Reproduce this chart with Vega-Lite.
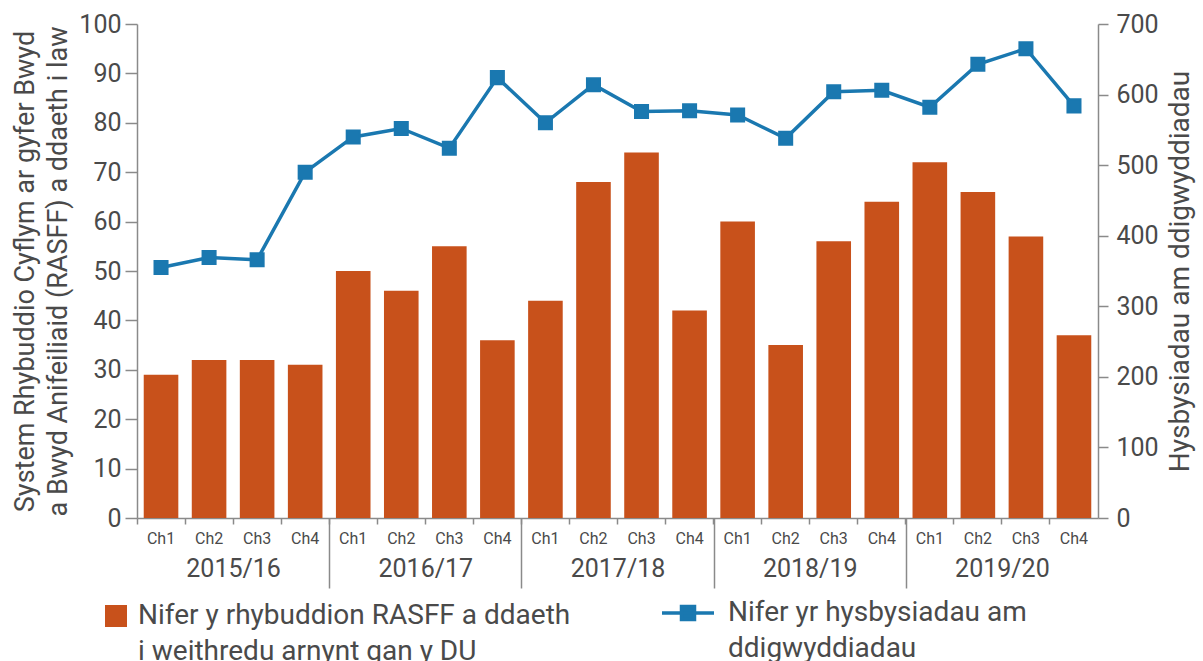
{
  "$schema": "https://vega.github.io/schema/vega-lite/v6.json",
  "width": 961,
  "height": 494,
  "autosize": {"type": "none"},
  "padding": {"left": 137, "top": 24, "right": 105, "bottom": 143},
  "config": {
    "view": {"stroke": null},
    "font": "Roboto",
    "axis": {"grid": false, "domainColor": "#8a8a8a", "tickColor": "#8a8a8a", "labelColor": "#4a4a4a", "titleColor": "#4a4a4a", "titleFontWeight": "normal", "domainWidth": 1.5, "tickWidth": 1.5},
    "legend": {"labelColor": "#4a4a4a", "labelFont": "Roboto"},
    "style": {"guide-label": {"lineHeight": 36}}
  },
  "data": {
    "values": [
      {"key": "2015/16 Ch1", "alerts": 29, "incidents": 355},
      {"key": "2015/16 Ch2", "alerts": 32, "incidents": 369},
      {"key": "2015/16 Ch3", "alerts": 32, "incidents": 366},
      {"key": "2015/16 Ch4", "alerts": 31, "incidents": 490},
      {"key": "2016/17 Ch1", "alerts": 50, "incidents": 540},
      {"key": "2016/17 Ch2", "alerts": 46, "incidents": 552},
      {"key": "2016/17 Ch3", "alerts": 55, "incidents": 524},
      {"key": "2016/17 Ch4", "alerts": 36, "incidents": 624},
      {"key": "2017/18 Ch1", "alerts": 44, "incidents": 560},
      {"key": "2017/18 Ch2", "alerts": 68, "incidents": 614},
      {"key": "2017/18 Ch3", "alerts": 74, "incidents": 576},
      {"key": "2017/18 Ch4", "alerts": 42, "incidents": 577},
      {"key": "2018/19 Ch1", "alerts": 60, "incidents": 571},
      {"key": "2018/19 Ch2", "alerts": 35, "incidents": 538},
      {"key": "2018/19 Ch3", "alerts": 56, "incidents": 604},
      {"key": "2018/19 Ch4", "alerts": 64, "incidents": 606},
      {"key": "2019/20 Ch1", "alerts": 72, "incidents": 582},
      {"key": "2019/20 Ch2", "alerts": 66, "incidents": 643},
      {"key": "2019/20 Ch3", "alerts": 57, "incidents": 665},
      {"key": "2019/20 Ch4", "alerts": 37, "incidents": 584}
    ]
  },
  "layer": [
    {
      "layer": [
        {
          "mark": {"type": "bar", "width": {"band": 0.72}},
          "encoding": {
            "x": {
              "field": "key", "type": "nominal", "sort": null,
              "scale": {"paddingInner": 0, "paddingOuter": 0},
              "axis": {"orient": "bottom", "title": null, "labelAngle": 0, "labelExpr": "split(datum.value, ' ')[1]", "labelFontSize": 16, "labelPadding": 6, "tickSize": 6, "bandPosition": 0}
            },
            "y": {
              "field": "alerts", "type": "quantitative",
              "scale": {"domain": [0, 100]},
              "axis": {"orient": "left", "values": [0, 10, 20, 30, 40, 50, 60, 70, 80, 90, 100], "tickSize": 12, "labelPadding": 4, "labelFontSize": 25, "title": ["System Rhybuddio Cyflym ar gyfer Bwyd", "a Bwyd Anifeiliaid (RASFF) a ddaeth i law"], "titleFontSize": 27, "titleLineHeight": 33, "titlePadding": 6}
            },
            "color": {
              "datum": "bars",
              "scale": {"range": ["#c8511b"]},
              "legend": {"orient": "none", "legendX": -35, "legendY": 578, "title": null, "symbolType": "square", "symbolSize": 484, "labelFontSize": 28, "labelLimit": 800, "labelOffset": 8, "labelExpr": "['Nifer y rhybuddion RASFF a ddaeth', 'i weithredu arnynt gan y DU']"}
            }
          }
        },
        {
          "mark": {"type": "line", "strokeWidth": 3.5, "point": {"shape": "square", "size": 170, "filled": true, "color": "#1a78b0"}},
          "encoding": {
            "x": {"field": "key", "type": "nominal", "sort": null},
            "y": {
              "field": "incidents", "type": "quantitative",
              "scale": {"domain": [0, 700]},
              "axis": {"orient": "right", "values": [0, 100, 200, 300, 400, 500, 600, 700], "tickSize": 10, "labelPadding": 8, "labelFontSize": 25, "title": "Hysbysiadau am ddigwyddiadau", "titleAngle": 270, "titleBaseline": "top", "titleFontSize": 28, "titlePadding": 8}
            },
            "stroke": {
              "datum": "line",
              "scale": {"range": ["#1a78b0"]},
              "legend": {"orient": "none", "legendX": 523, "legendY": 561, "title": null, "symbolType": "M-1,0H1M-0.25,-0.25H0.25V0.25H-0.25Z", "symbolSize": 2704, "symbolStrokeWidth": 3.5, "symbolFillColor": "#1a78b0", "labelFontSize": 28, "labelLimit": 800, "labelOffset": 12, "labelExpr": "['Nifer yr hysbysiadau am', 'ddigwyddiadau']"}
            }
          }
        }
      ],
      "resolve": {"scale": {"y": "independent"}}
    },
    {
      "data": {"values": [{"year": "2015/16"}, {"year": "2016/17"}, {"year": "2017/18"}, {"year": "2018/19"}, {"year": "2019/20"}]},
      "mark": {"type": "text", "text": ""},
      "encoding": {
        "x": {
          "field": "year", "type": "nominal", "sort": null,
          "scale": {"paddingInner": 0, "paddingOuter": 0},
          "axis": {"orient": "bottom", "title": null, "domain": false, "labelAngle": 0, "labelFontSize": 25, "tickSize": 70, "labelPadding": -32, "tickOffset": -96.1, "labelOffset": 96.1, "tickColor": {"condition": {"test": "datum.value === '2015/16'", "value": "transparent"}, "value": "#8a8a8a"}}
        }
      }
    }
  ],
  "resolve": {"scale": {"x": "independent"}, "axis": {"x": "independent"}}
}
